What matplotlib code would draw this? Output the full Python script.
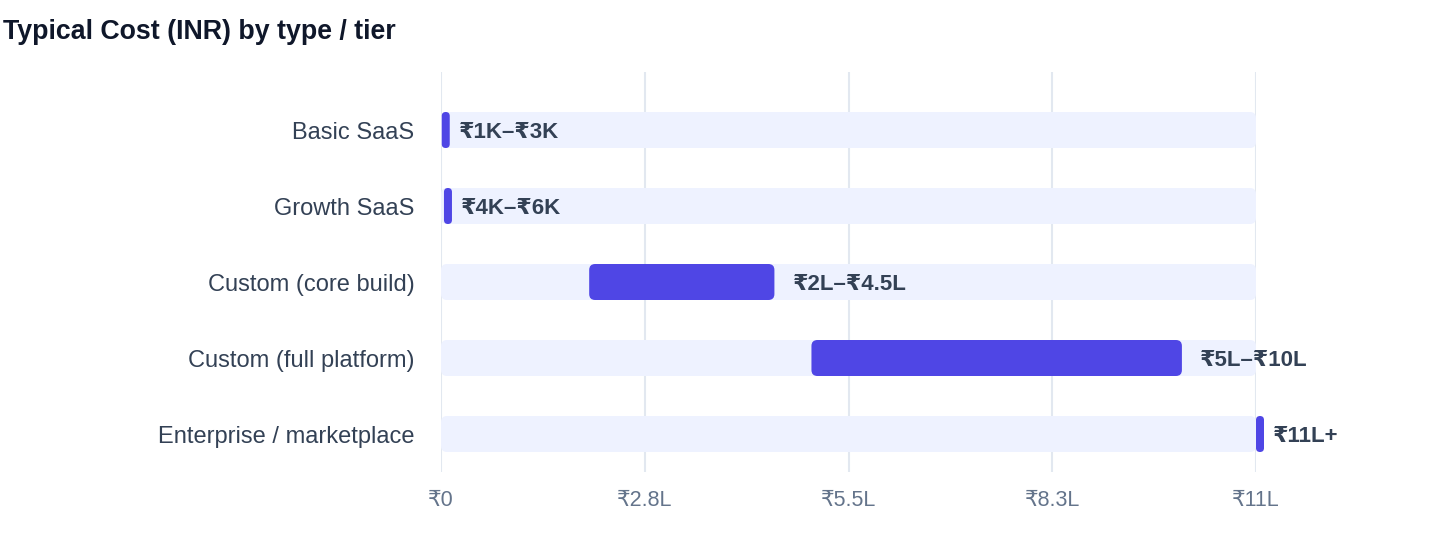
import matplotlib.pyplot as plt
from matplotlib.patches import FancyBboxPatch

# data (INR)
categories = ['Basic SaaS', 'Growth SaaS', 'Custom (core build)',
              'Custom (full platform)', 'Enterprise / marketplace']
lowValues = [1000, 4000, 200000, 500000, 1100000]
highValues = [3000, 6000, 450000, 1000000, 1100000]
rangeLabels = ['₹1K–₹3K', '₹4K–₹6K', '₹2L–₹4.5L', '₹5L–₹10L', '₹11L+']
axisMax = 1100000
tickValues = [0, 275000, 550000, 825000, 1100000]
tickLabels = ['₹0', '₹2.8L', '₹5.5L', '₹8.3L', '₹11L']

FONTS = ['Liberation Sans', 'DejaVu Sans']
plt.rcParams['font.family'] = FONTS

W, H = 1440, 560
fig = plt.figure(figsize=(W / 100, H / 100), dpi=100)
axLeft, axRight, axTop, axBottom = 441, 1256, 72, 472
ax = fig.add_axes([axLeft / W, 1 - axBottom / H,
                   (axRight - axLeft) / W, (axBottom - axTop) / H])

rowPx = 76
ax.set_xlim(0, axisMax)
ax.set_ylim(4 + (axBottom - 434) / rowPx, -(130 - axTop) / rowPx)

xpp = axisMax / (axRight - axLeft)   # data units per pixel
ypp = 1 / rowPx
aspect = ypp / xpp
barH = 36 * ypp


def roundedBar(x0, width, y, color, radiusPx, z):
    r = min(radiusPx, width / xpp / 2) * xpp
    patch = FancyBboxPatch((x0, y - barH / 2), width, barH,
                           boxstyle=f'round,pad=0,rounding_size={r}',
                           mutation_aspect=aspect, facecolor=color,
                           edgecolor='none', zorder=z, clip_on=False)
    ax.add_patch(patch)


minWidth = 8 * xpp
for i, cat in enumerate(categories):
    roundedBar(0, axisMax, i, '#EEF2FF', 6, 1)
    width = highValues[i] - lowValues[i]
    isSmall = width < minWidth
    width = max(width, minWidth)
    roundedBar(lowValues[i], width, i, '#4F46E5', 6, 2)
    gap = 9 if isSmall else 18
    ax.text(lowValues[i] + width + gap * xpp, i, rangeLabels[i],
            va='center_baseline', ha='left', fontsize=16, fontweight='bold',
            color='#334155', zorder=3, clip_on=False)

ax.set_yticks(range(len(categories)))
ax.set_yticklabels(categories, fontsize=17, color='#334155')
ax.set_xticks(tickValues)
ax.set_xticklabels(tickLabels, fontsize=15.5, color='#64748B')
ax.tick_params(axis='y', length=0, pad=19)
ax.tick_params(axis='x', length=0, pad=13)
ax.grid(axis='x', color='#E2E8F0', linewidth=1.5, zorder=0)
ax.set_axisbelow(True)
for spine in ax.spines.values():
    spine.set_visible(False)

fig.text(3 / W, 1 - 32 / H, 'Typical Cost (INR) by type / tier',
         fontsize=19.3, fontweight='bold', color='#0F172A',
         ha='left', va='center')

fig.savefig('out.png', dpi=100)
